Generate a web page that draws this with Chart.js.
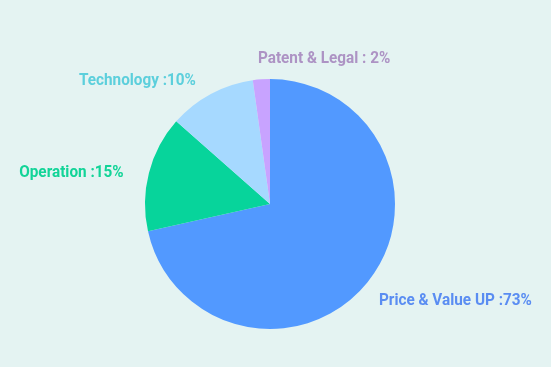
<!DOCTYPE html>
<html>
<head>
<meta charset="utf-8">
<script src="https://cdn.jsdelivr.net/npm/chart.js@4"></script>
<style>
html,body{margin:0;padding:0;background:#e4f3f2;}
#wrap{width:551px;height:367px;}
</style>
</head>
<body>
<div id="wrap"><canvas id="c" width="551" height="367"></canvas></div>
<script>
const categories = ["Price & Value UP", "Operation", "Technology", "Patent & Legal"];
const values = [71.5, 15, 11.3, 2.2];
const labelTexts = ["Price & Value UP :73%", "Operation :15%", "Technology :10%", "Patent & Legal : 2%"];
const sliceColors = ["#5299ff", "#07d49b", "#a6d9ff", "#c8a3ff"];
const labelColors = ["#5a8df2", "#12d498", "#5ccfdc", "#ad93c4"];

const outsideLabels = {
  id: 'outsideLabels',
  afterDatasetsDraw(chart) {
    const ctx = chart.ctx;
    const meta = chart.getDatasetMeta(0);
    ctx.save();
    ctx.font = 'bold 17px Roboto';
    ctx.textBaseline = 'middle';
    meta.data.forEach((arc, i) => {
      const p = arc.getProps(['x','y','startAngle','endAngle','outerRadius'], true);
      const mid = (p.startAngle + p.endAngle) / 2;
      const r = p.outerRadius + 21;
      const cx = Math.cos(mid), sy = Math.sin(mid);
      const nearTop = sy < -0.95;
      let x = p.x + cx * r + (nearTop ? -2 : -5);
      let y = p.y + sy * r + (nearTop ? 0 : 5);
      const left = cx > -0.1;
      const sx = 0.9;
      const w = ctx.measureText(labelTexts[i]).width * sx;
      if (!left) x -= w;
      ctx.save();
      ctx.translate(x, y);
      ctx.scale(sx, 1);
      ctx.fillStyle = labelColors[i];
      ctx.textAlign = 'left';
      ctx.fillText(labelTexts[i], 0, 0);
      ctx.restore();
    });
    ctx.restore();
  }
};

new Chart(document.getElementById('c'), {
  type: 'pie',
  data: {
    labels: categories,
    datasets: [{
      data: values,
      backgroundColor: sliceColors,
      borderWidth: 0
    }]
  },
  options: {
    responsive: false,
    animation: false,
    layout: { padding: { top: 79, bottom: 38, left: 0, right: 11 } },
    plugins: {
      legend: { display: false },
      tooltip: { enabled: false }
    }
  },
  plugins: [outsideLabels]
});
</script>
</body>
</html>
